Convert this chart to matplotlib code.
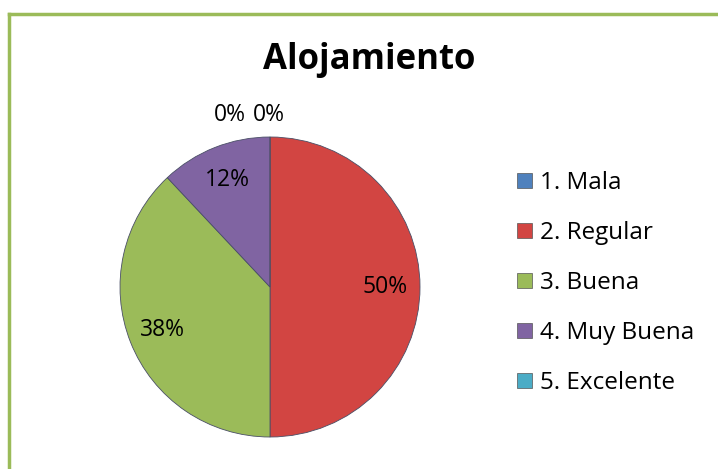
import matplotlib.pyplot as plt
from matplotlib.patches import Patch
from matplotlib.lines import Line2D

categories = ["1. Mala", "2. Regular", "3. Buena", "4. Muy Buena", "5. Excelente"]
shares = [0, 50, 38, 12, 0]
colors = ["#4F81BD", "#D24542", "#9BBB59", "#8064A2", "#4BACC6"]
title = "Alojamiento"

plt.rcParams["font.family"] = ["Open Sans", "DejaVu Sans"]

fig = plt.figure(figsize=(7.18, 4.69), dpi=100)
W, H = 718, 469

# pie: center (270, 287), radius 150 px
ax = fig.add_axes([(270 - 150) / W, 1 - (287 + 150) / H, 300 / W, 300 / H])
wedges, texts, autotexts = ax.pie(
    shares, colors=colors, startangle=90, counterclock=False,
    autopct=lambda p: f"{p:.0f}%", pctdistance=0.77,
    wedgeprops=dict(edgecolor="#4a4f66", linewidth=0.6),
    textprops=dict(fontsize=16.5, color="black"))
ax.set_xlim(-1, 1)
ax.set_ylim(-1, 1)
ax.set_aspect("equal")

# zero slices get their labels above the pie, as in the original
zero_x = {0: -0.27, 4: -0.01}
for i, t in enumerate(autotexts):
    if shares[i] == 0:
        t.set_position((zero_x[i], 1.147))
        t.set_clip_on(False)

fig.text(369 / W, 1 - 60 / H, title, ha="center", va="center",
         fontsize=25, fontweight="bold")

handles = [Patch(facecolor=c, edgecolor="#555555", linewidth=0.5) for c in colors]
fig.legend(handles, categories, loc="upper left",
           bbox_to_anchor=(517 / W, 1 - 171 / H), frameon=False,
           fontsize=17.5, labelspacing=1.07, handlelength=0.6,
           handleheight=0.6, handletextpad=0.35, borderaxespad=0,
           borderpad=0)

# green frame (left and top edges visible)
green = "#9BBB59"
fig.add_artist(Line2D([9 / W, 9 / W], [0, 1 - 14 / H], color=green, lw=2.5,
                      transform=fig.transFigure))
fig.add_artist(Line2D([9 / W, 1], [1 - 14 / H, 1 - 14 / H], color=green, lw=2.5,
                      transform=fig.transFigure))

fig.savefig("out.png", dpi=100)
